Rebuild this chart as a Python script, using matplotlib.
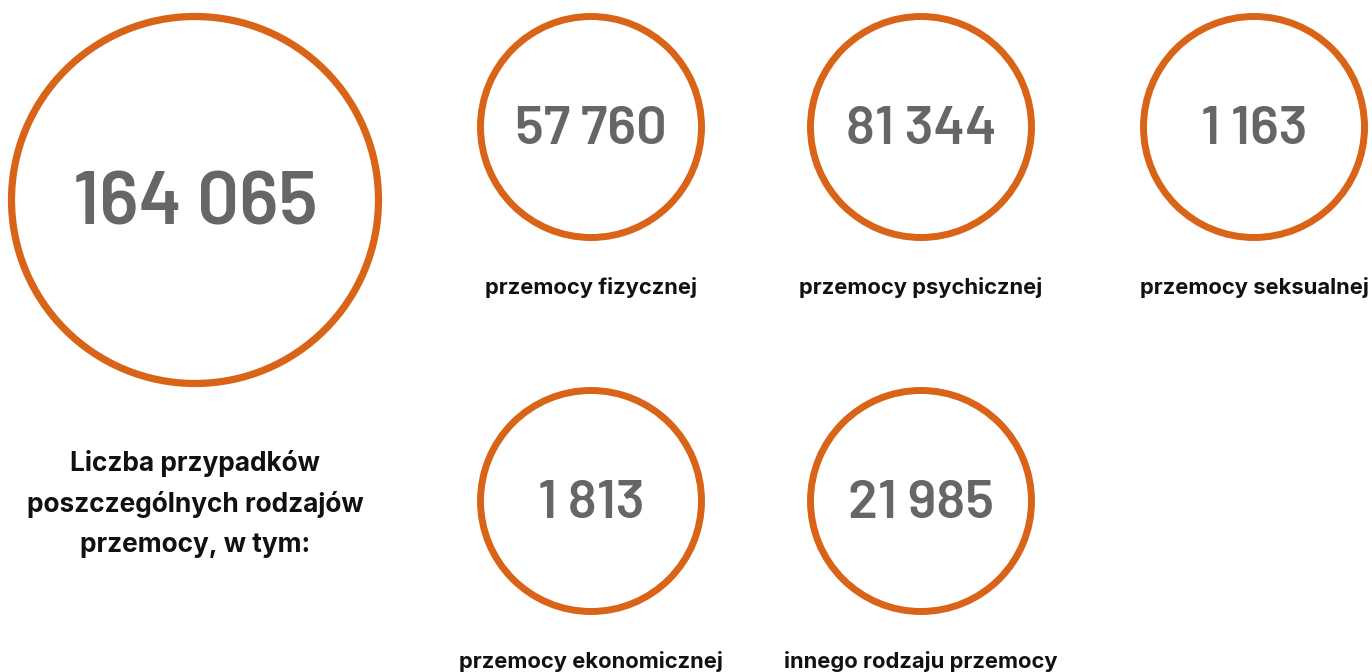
import matplotlib
matplotlib.use("Agg")
import matplotlib.pyplot as plt
from matplotlib.patches import Circle

# Data
total_value = "164 065"
total_label = "Liczba przypadków\nposzczególnych rodzajów\nprzemocy, w tym:"
categories = ["przemocy fizycznej", "przemocy psychicznej", "przemocy seksualnej",
              "przemocy ekonomicznej", "innego rodzaju przemocy"]
values = [57760, 81344, 1163, 1813, 21985]

def fmt(v):
    return f"{v:,}".replace(",", "\u2009")

ORANGE = "#D96316"
GRAY = "#666666"
NUMFONT = ["Barlow", "DejaVu Sans"]
LABFONT = ["Inter", "DejaVu Sans"]

W, H = 1372, 672
fig = plt.figure(figsize=(W / 100, H / 100), dpi=100)
ax = fig.add_axes([0, 0, 1, 1])
ax.set_xlim(0, W)
ax.set_ylim(H, 0)
ax.set_aspect("equal")
ax.axis("off")

# big circle
ax.add_patch(Circle((195, 200), 183.5, fill=False, ec=ORANGE, lw=5.2))
ax.text(195, 205, total_value, ha="center", va="center", fontsize=53.5,
        family=NUMFONT, weight=600, color=GRAY)
ax.text(195, 504, total_label, ha="center", va="center", fontsize=18.9,
        family=LABFONT, weight="bold", color="#111111", linespacing=1.68)

positions = [(591, 127), (921, 127), (1254, 127), (591, 501), (921, 501)]
label_y = [287, 287, 287, 661, 661]
for (cx, cy), v, lab, ly in zip(positions, values, categories, label_y):
    ax.add_patch(Circle((cx, cy), 110.5, fill=False, ec=ORANGE, lw=5.0))
    ax.text(cx, cy + 3, fmt(v), ha="center", va="center", fontsize=39,
            family=NUMFONT, weight=600, color=GRAY)
    ax.text(cx, ly, lab, ha="center", va="center", fontsize=15.8,
            family=LABFONT, weight="bold", color="#111111")

fig.savefig("out.png", dpi=100, facecolor="white")
